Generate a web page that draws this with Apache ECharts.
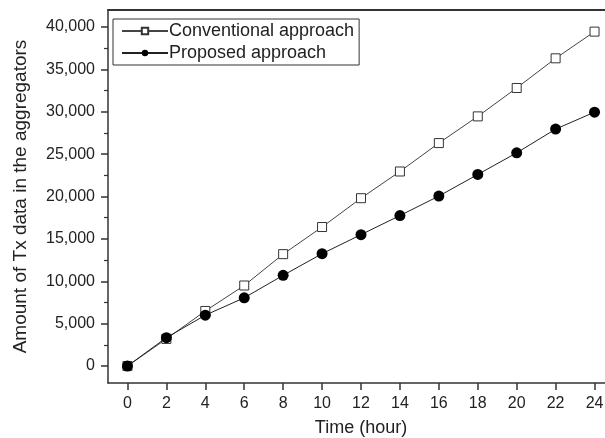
<!DOCTYPE html>
<html><head><meta charset="utf-8">
<script src="https://cdn.jsdelivr.net/npm/echarts@6/dist/echarts.min.js"></script>
<style>html,body{margin:0;padding:0;background:#fff}#c{width:605px;height:438px}</style>
</head><body><div id="c"></div>
<script>
const hours = [0, 2, 4, 6, 8, 10, 12, 14, 16, 18, 20, 22, 24];
const conventional = [0, 3200, 6500, 9500, 13200, 16400, 19800, 22950, 26300, 29450, 32800, 36300, 39450];
const proposed = [0, 3350, 6000, 8050, 10700, 13250, 15500, 17750, 20050, 22600, 25150, 27950, 29950];
const seriesNames = ['Conventional approach', 'Proposed approach'];
const xAxisName = 'Time (hour)';
const yAxisName = 'Amount of Tx data in the aggregators';
const yMajor = [0, 5000, 10000, 15000, 20000, 25000, 30000, 35000, 40000];
const yMinor = [2500, 7500, 12500, 17500, 22500, 27500, 32500, 37500];

const font = 'Liberation Sans, Arial, sans-serif';
const ink = '#222';
const chart = echarts.init(document.getElementById('c'), null, {renderer: 'canvas'});
const pairs = arr => hours.map((h, i) => [h, arr[i]]);
chart.setOption({
  animation: false,
  backgroundColor: '#fff',
  grid: {left: 108, top: 10, right: -9, bottom: 55, outerBoundsMode: 'none', containLabel: false},
  legend: {
    orient: 'vertical', left: 113, top: 19,
    borderColor: '#333', borderWidth: 1,
    padding: [3, 5, 3, 8],
    itemWidth: 46, itemHeight: 8, itemGap: 4,
    textStyle: {fontFamily: font, fontSize: 18, color: ink, padding: [0, 0, 0, -4]},
    data: seriesNames
  },
  xAxis: [{
    type: 'value', min: -1, max: 25, interval: 2,
    name: xAxisName, nameLocation: 'middle', nameGap: 36,
    nameTextStyle: {fontFamily: font, fontSize: 18, color: ink},
    axisLine: {onZero: false, lineStyle: {color: '#333', width: 1.5}},
    axisTick: {show: true, length: 7, inside: false, lineStyle: {color: '#333', width: 1.5},
      customValues: hours},
    axisLabel: {fontFamily: font, fontSize: 16, color: ink, margin: 13, customValues: hours},
    splitLine: {show: false}
  }, {
    type: 'value', position: 'top', min: -1, max: 25,
    axisLine: {show: true, onZero: false, lineStyle: {color: '#333', width: 2}},
    axisTick: {show: false}, axisLabel: {show: false}, splitLine: {show: false}
  }],
  yAxis: [{
    type: 'value', min: -2000, max: 42000,
    name: yAxisName, nameLocation: 'middle', nameGap: 78,
    nameTextStyle: {fontFamily: font, fontSize: 19, color: ink},
    axisLine: {show: true, onZero: false, lineStyle: {color: '#333', width: 1.5}},
    axisTick: {show: true, length: 7, lineStyle: {color: '#333', width: 1.5}, customValues: yMajor},
    axisLabel: {fontFamily: font, fontSize: 16, color: ink, margin: 13, customValues: yMajor,
      formatter: v => v.toLocaleString('en-US')},
    splitLine: {show: false}
  }, {
    type: 'value', position: 'left', min: -2000, max: 42000,
    axisLine: {show: false, onZero: false},
    axisTick: {show: true, length: 4, lineStyle: {color: '#333', width: 1.2}, customValues: yMinor},
    axisLabel: {show: false, customValues: yMinor},
    splitLine: {show: false}
  }],
  series: [{
    name: seriesNames[0], type: 'line', data: pairs(conventional),
    symbol: 'rect', symbolSize: 9,
    lineStyle: {color: '#444', width: 1},
    itemStyle: {color: '#fff', borderColor: '#333', borderWidth: 1},
    z: 2
  }, {
    name: seriesNames[1], type: 'line', data: pairs(proposed),
    symbol: 'circle', symbolSize: 11,
    lineStyle: {color: '#222', width: 1},
    itemStyle: {color: '#000', borderColor: '#000', borderWidth: 0},
    z: 3
  }]
});
</script></body></html>
